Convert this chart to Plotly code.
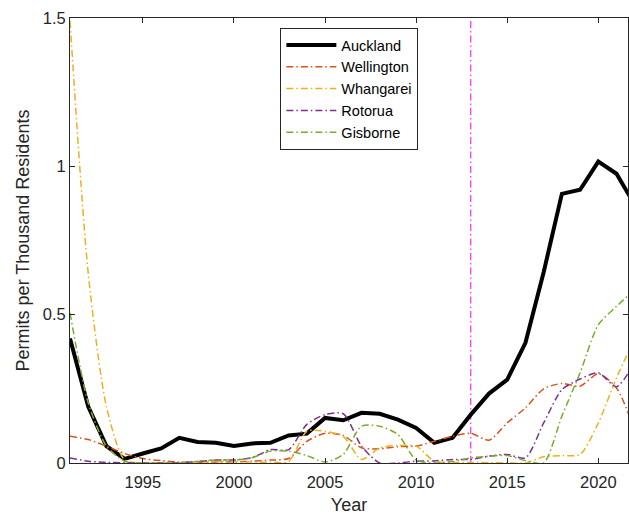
import plotly.graph_objects as go

years = list(range(1991, 2023))

auckland = [0.42, 0.19, 0.057, 0.014, 0.032, 0.049, 0.085, 0.071, 0.068, 0.057,
            0.066, 0.068, 0.093, 0.099, 0.152, 0.144, 0.169, 0.166, 0.146, 0.118,
            0.068, 0.085, 0.163, 0.234, 0.281, 0.405, 0.643, 0.907, 0.921, 1.016,
            0.975, 0.87]
wellington = [0.09, 0.079, 0.057, 0.032, 0.015, 0.008, 0.003, 0.002, 0.003, 0.004,
              0.006, 0.01, 0.015, 0.073, 0.10, 0.093, 0.051, 0.048, 0.055, 0.057,
              0.073, 0.09, 0.10, 0.077, 0.135, 0.186, 0.25, 0.268, 0.259, 0.301,
              0.253, 0.11]
whangarei = [1.49, 0.64, 0.19, 0.01, 0.0, 0.0, 0.0, 0.002, 0.004, 0.004,
             0.003, 0.003, 0.005, 0.107, 0.107, 0.09, 0.012, 0.051, 0.059, 0.057,
             0.006, 0.002, 0.002, 0.001, 0.001, 0.0, 0.021, 0.025, 0.029, 0.135,
             0.287, 0.42]
rotorua = [0.017, 0.006, 0.002, 0.001, 0.0, 0.0, 0.001, 0.005, 0.01, 0.01,
           0.018, 0.045, 0.045, 0.13, 0.163, 0.166, 0.057, 0.0, 0.0, 0.006,
           0.007, 0.012, 0.012, 0.023, 0.029, 0.017, 0.135, 0.247, 0.283, 0.304,
           0.257, 0.34]
gisborne = [0.506, 0.203, 0.057, 0.006, 0.0, 0.0, 0.0, 0.005, 0.01, 0.01,
            0.018, 0.04, 0.04, 0.025, 0.003, 0.029, 0.124, 0.124, 0.096, 0.01,
            0.0, 0.005, 0.017, 0.023, 0.025, 0.008, 0.0, 0.158, 0.304, 0.466,
            0.528, 0.585]

series_names = ["Auckland", "Wellington", "Whangarei", "Rotorua", "Gisborne"]
series_values = [auckland, wellington, whangarei, rotorua, gisborne]
series_colors = ["#000000", "#D95319", "#EDB120", "#7E2F8E", "#77AC30"]

vline_year = [2013]
x_ticks = [1995, 2000, 2005, 2010, 2015, 2020]
y_ticks = [0, 0.5, 1, 1.5]
y_tick_labels = ["0", "0.5", "1", "1.5"]

FONT = "Liberation Sans, Arial, Helvetica, sans-serif"
AX = "#262626"
DASHDOT = "7px,3px,1.5px,3px"

fig = go.Figure()

fig.add_trace(go.Scatter(x=[vline_year[0], vline_year[0]], y=[0, 1.5], mode="lines",
                         line=dict(color="#FF00FF", width=1, dash=DASHDOT),
                         showlegend=False, hoverinfo="skip"))

for name, vals, col in zip(series_names, series_values, series_colors):
    if name == "Auckland":
        line = dict(color=col, width=4)
    else:
        line = dict(color=col, width=1.5, dash=DASHDOT, shape="spline", smoothing=0.7)
    fig.add_trace(go.Scatter(x=years, y=vals, mode="lines", name=name, line=line,
                             legendgroup=name))

axis_common = dict(showgrid=False, zeroline=False, showline=True, linecolor=AX,
                   linewidth=1, mirror="ticks", ticks="inside", ticklen=5,
                   tickcolor=AX, automargin=False,
                   tickfont=dict(family=FONT, size=16.5, color=AX))

fig.update_layout(
    width=629, height=515,
    margin=dict(l=70, r=1, t=18, b=52),
    paper_bgcolor="white", plot_bgcolor="white",
    font=dict(family=FONT, color=AX),
    xaxis=dict(range=[1991, 2021.63], tickvals=x_ticks, ticklabelstandoff=4,
               title=dict(text="Year", font=dict(family=FONT, size=18, color=AX), standoff=12),
               **axis_common),
    yaxis=dict(range=[0, 1.5], tickvals=y_ticks, ticktext=y_tick_labels,
               title=dict(text="Permits per Thousand Residents",
                          font=dict(family=FONT, size=18, color=AX), standoff=8),
               **axis_common),
    legend=dict(x=0.377, y=0.9776, xanchor="left", yanchor="top",
                bgcolor="white", bordercolor=AX, borderwidth=1,
                font=dict(family=FONT, size=14.5, color="#000000"),
                itemwidth=50, tracegroupgap=0, traceorder="normal"),
    showlegend=True,
)

fig.write_html("out.html", config={"displayModeBar": False},
               post_script="document.body.style.margin='0';document.body.style.overflow='hidden';")
